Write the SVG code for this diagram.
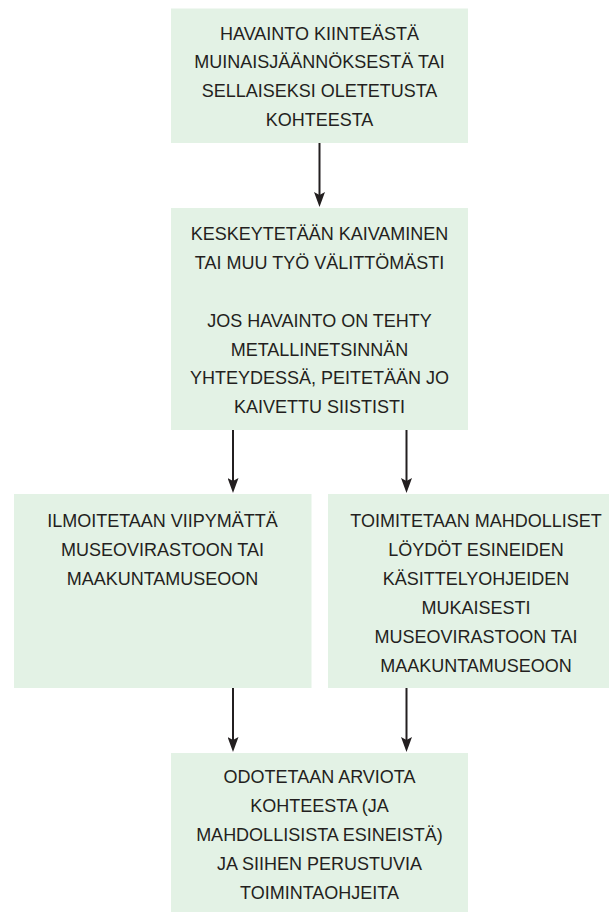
<svg xmlns="http://www.w3.org/2000/svg" width="609" height="912" viewBox="0 0 609 912">
<style>
.box{fill:#e3f2e5}
.t{font-family:"Liberation Sans",Arial,sans-serif;font-size:18px;fill:#231f20;text-anchor:middle}
.c{stroke:#231f20;stroke-width:2;fill:none}
</style>
<defs>
<marker id="ah" viewBox="0 -5.5 15 11" refX="7" refY="0" markerWidth="15" markerHeight="11" markerUnits="userSpaceOnUse" orient="auto">
<path d="M0,-5.5 L15,0 L0,5.5 L3,0 z" fill="#231f20"/>
</marker>
</defs>
<rect width="609" height="912" fill="#ffffff"/>
<g id="n1">
<rect class="box" x="171" y="8.5" width="297" height="134.5"/>
<text class="t" x="319.5" y="39.5">HAVAINTO KIINTEÄSTÄ</text>
<text class="t" x="319.5" y="68.3">MUINAISJÄÄNNÖKSESTÄ TAI</text>
<text class="t" x="319.5" y="97.1">SELLAISEKSI OLETETUSTA</text>
<text class="t" x="319.5" y="125.9">KOHTEESTA</text>
</g>
<g id="n2">
<rect class="box" x="171" y="208" width="297" height="222"/>
<text class="t" x="319.5" y="240">KESKEYTETÄÄN KAIVAMINEN</text>
<text class="t" x="319.5" y="268.7">TAI MUU TYÖ VÄLITTÖMÄSTI</text>
<text class="t" x="319.5" y="327">JOS HAVAINTO ON TEHTY</text>
<text class="t" x="319.5" y="355.7">METALLINETSINNÄN</text>
<text class="t" x="319.5" y="384.4">YHTEYDESSÄ, PEITETÄÄN JO</text>
<text class="t" x="319.5" y="413">KAIVETTU SIISTISTI</text>
</g>
<g id="n3">
<rect class="box" x="14" y="494" width="297.5" height="194"/>
<text class="t" x="162.5" y="527">ILMOITETAAN VIIPYMÄTTÄ</text>
<text class="t" x="162.5" y="556">MUSEOVIRASTOON TAI</text>
<text class="t" x="162.5" y="585">MAAKUNTAMUSEOON</text>
</g>
<g id="n4">
<rect class="box" x="328" y="494" width="297" height="194"/>
<text class="t" x="476" y="527">TOIMITETAAN MAHDOLLISET</text>
<text class="t" x="476" y="556">LÖYDÖT ESINEIDEN</text>
<text class="t" x="476" y="585">KÄSITTELYOHJEIDEN</text>
<text class="t" x="476" y="614">MUKAISESTI</text>
<text class="t" x="476" y="643">MUSEOVIRASTOON TAI</text>
<text class="t" x="476" y="672">MAAKUNTAMUSEOON</text>
</g>
<g id="n5">
<rect class="box" x="171" y="753" width="297" height="159"/>
<text class="t" x="319.5" y="783">ODOTETAAN ARVIOTA</text>
<text class="t" x="319.5" y="812">KOHTEESTA (JA</text>
<text class="t" x="319.5" y="841">MAHDOLLISISTA ESINEISTÄ)</text>
<text class="t" x="319.5" y="870">JA SIIHEN PERUSTUVIA</text>
<text class="t" x="319.5" y="899">TOIMINTAOHJEITA</text>
</g>
<g id="connectors">
<path class="c" d="M319.5,143 V199" marker-end="url(#ah)"/>
<path class="c" d="M233,430 V485" marker-end="url(#ah)"/>
<path class="c" d="M406.5,430 V485" marker-end="url(#ah)"/>
<path class="c" d="M233,688 V744" marker-end="url(#ah)"/>
<path class="c" d="M406.5,688 V744" marker-end="url(#ah)"/>
</g>
</svg>
